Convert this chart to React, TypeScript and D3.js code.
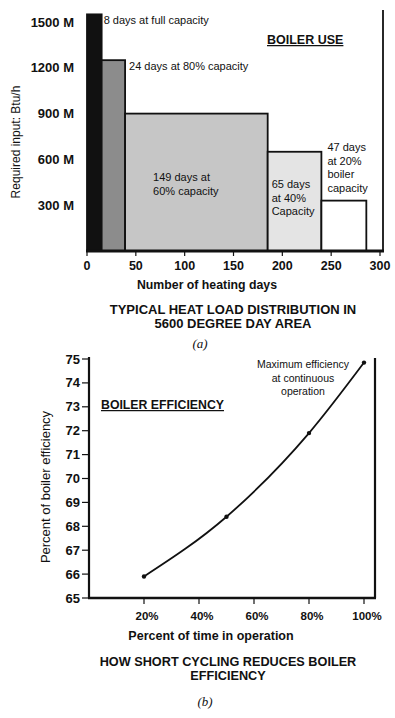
import React from 'react'
import * as d3 from 'd3'

// (a) boiler use: bars
const useBarStart = [0, 15, 39, 185, 240]
const useBarDays = [15, 24, 146, 55, 46]
const useBarLoad = [1550, 1250, 900, 650, 330]
const useXTicks = [0, 50, 100, 150, 200, 250, 300]
const useYTicks = [300, 600, 900, 1200, 1500]
const useYTickLabels = ['300 M', '600 M', '900 M', '1200 M', '1500 M']
const useNotes = [
  ['8 days at full capacity'],
  ['24 days at 80% capacity'],
  ['149 days at', '60% capacity'],
  ['65 days', 'at 40%', 'Capacity'],
  ['47 days', 'at 20%', 'boiler', 'capacity'],
]

// (b) boiler efficiency
const effPct = [20, 50, 80, 100]
const effValue = [65.9, 68.4, 71.9, 74.85]
const effXTicks = [20, 40, 60, 80, 100]
const effYTicks = [65, 66, 67, 68, 69, 70, 71, 72, 73, 74, 75]

const barFills = ['#111', '#8c8c8c', '#c6c6c6', '#e4e4e4', '#fff']
const font = 'Liberation Sans, Arial, Helvetica, sans-serif'

export default function App() {
  // top chart scales
  const x1 = d3.scaleLinear().domain([0, 300]).range([87, 380])
  const y1 = d3.scaleLinear().domain([0, 1500]).range([251, 22])
  // bottom chart scales
  const x2 = d3.scaleLinear().domain([0, 100]).range([89, 364])
  const y2 = d3.scaleLinear().domain([65, 75]).range([598, 359])

  const line = d3
    .line<number>()
    .x((d, i) => x2(effPct[i]))
    .y(d => y2(d))
    .curve(d3.curveMonotoneX)

  // note anchors (offset from the bars they describe)
  const noteAt = [
    { x: x1(useBarStart[0] + useBarDays[0]) + 2, y: 24 },
    { x: x1(useBarStart[1] + useBarDays[1]) + 4, y: 70 },
    { x: x1(useBarStart[2]) + 28, y: 181 },
    { x: x1(useBarStart[3]) + 4, y: 188 },
    { x: x1(useBarStart[4]) + 6, y: 151 },
  ]

  return (
    <svg
      width={395}
      height={718}
      style={{ position: 'absolute', left: 0, top: 0, background: '#fff' }}
      fontFamily={font}
    >
      {/* ---------- (a) ---------- */}
      {useBarLoad.map((v, i) => (
        <rect
          key={i}
          x={x1(useBarStart[i])}
          y={y1(v)}
          width={x1(useBarStart[i] + useBarDays[i]) - x1(useBarStart[i])}
          height={y1(0) - y1(v)}
          fill={barFills[i]}
          stroke="#111"
          strokeWidth={1.8}
        />
      ))}
      {/* frame right + baseline */}
      <line x1={383} x2={383} y1={10} y2={y1(0)} stroke="#111" strokeWidth={1.8} />
      <line x1={x1(0) - 1} x2={384} y1={y1(0)} y2={y1(0)} stroke="#111" strokeWidth={3} />
      {useXTicks.map(t => (
        <g key={t}>
          <line x1={x1(t)} x2={x1(t)} y1={y1(0)} y2={y1(0) + 5} stroke="#111" strokeWidth={1.2} />
          <text x={x1(t)} y={270} textAnchor="middle" fontSize={12.5} fontWeight="bold" fill="#111">
            {t}
          </text>
        </g>
      ))}
      {useYTicks.map((t, i) => (
        <text key={t} x={74} y={y1(t) + 4.5} textAnchor="end" fontSize={13} fontWeight="bold" fill="#111">
          {useYTickLabels[i]}
        </text>
      ))}
      <text
        transform={`translate(20,142) rotate(-90)`}
        textAnchor="middle"
        fontSize={12}
        fill="#111"
      >
        Required input: Btu/h
      </text>
      {useNotes.map((lines, i) => (
        <text key={i} x={noteAt[i].x} y={noteAt[i].y} fontSize={11} fill="#111">
          {lines.map((l, j) => (
            <tspan key={j} x={noteAt[i].x} dy={j === 0 ? 0 : 13.5}>
              {l}
            </tspan>
          ))}
        </text>
      ))}
      <text x={267} y={44} fontSize={12.5} fontWeight="bold" fill="#111" textDecoration="underline">
        BOILER USE
      </text>
      <text x={207} y={289} textAnchor="middle" fontSize={12.3} fontWeight="bold" fill="#111">
        Number of heating days
      </text>
      <text x={233} y={314} textAnchor="middle" fontSize={13} fontWeight="bold" fill="#111">
        TYPICAL HEAT LOAD DISTRIBUTION IN
      </text>
      <text x={233} y={328} textAnchor="middle" fontSize={13} fontWeight="bold" fill="#111">
        5600 DEGREE DAY AREA
      </text>
      <text x={200} y={348} textAnchor="middle" fontSize={13} fontStyle="italic" fontFamily="Liberation Serif, serif" fill="#111">
        (a)
      </text>

      {/* ---------- (b) ---------- */}
      <line x1={x2(0)} x2={x2(0)} y1={y2(75) - 2} y2={y2(65)} stroke="#111" strokeWidth={2.2} />
      <line x1={375} x2={375} y1={358} y2={y2(65)} stroke="#111" strokeWidth={2.2} />
      <line x1={x2(0) - 1} x2={376} y1={y2(65)} y2={y2(65)} stroke="#111" strokeWidth={2.5} />
      {effYTicks.map(t => (
        <g key={t}>
          <line x1={x2(0) - 7} x2={x2(0)} y1={y2(t)} y2={y2(t)} stroke="#111" strokeWidth={1.2} />
          <text x={80} y={y2(t) + 4.5} textAnchor="end" fontSize={13} fontWeight="bold" fill="#111">
            {t}
          </text>
        </g>
      ))}
      {effXTicks.map(t => (
        <g key={t}>
          <line x1={x2(t)} x2={x2(t)} y1={y2(65)} y2={y2(65) + 6} stroke="#111" strokeWidth={1.2} />
          <text x={x2(t) + 3} y={620} textAnchor="middle" fontSize={11.5} fontWeight="bold" fill="#111">
            {t}%
          </text>
        </g>
      ))}
      <path d={line(effValue) || ''} fill="none" stroke="#111" strokeWidth={1.8} />
      {effValue.map((v, i) => (
        <circle key={i} cx={x2(effPct[i])} cy={y2(v)} r={2.2} fill="#111" />
      ))}
      <text x={101} y={409} fontSize={12.3} fontWeight="bold" fill="#111" textDecoration="underline">
        BOILER EFFICIENCY
      </text>
      <text x={303} y={368} textAnchor="middle" fontSize={10.5} fill="#111">
        <tspan x={303}>Maximum efficiency</tspan>
        <tspan x={303} dy={13.5}>at continuous</tspan>
        <tspan x={303} dy={13.5}>operation</tspan>
      </text>
      <text
        transform={`translate(50,487) rotate(-90)`}
        textAnchor="middle"
        fontSize={13}
        fill="#111"
      >
        Percent of boiler efficiency
      </text>
      <text x={211} y={640} textAnchor="middle" fontSize={12.5} fontWeight="bold" fill="#111">
        Percent of time in operation
      </text>
      <text x={228} y={666} textAnchor="middle" fontSize={12.7} fontWeight="bold" fill="#111">
        HOW SHORT CYCLING REDUCES BOILER
      </text>
      <text x={228} y={680} textAnchor="middle" fontSize={12.7} fontWeight="bold" fill="#111">
        EFFICIENCY
      </text>
      <text x={205} y={706} textAnchor="middle" fontSize={13} fontStyle="italic" fontFamily="Liberation Serif, serif" fill="#111">
        (b)
      </text>
    </svg>
  )
}
